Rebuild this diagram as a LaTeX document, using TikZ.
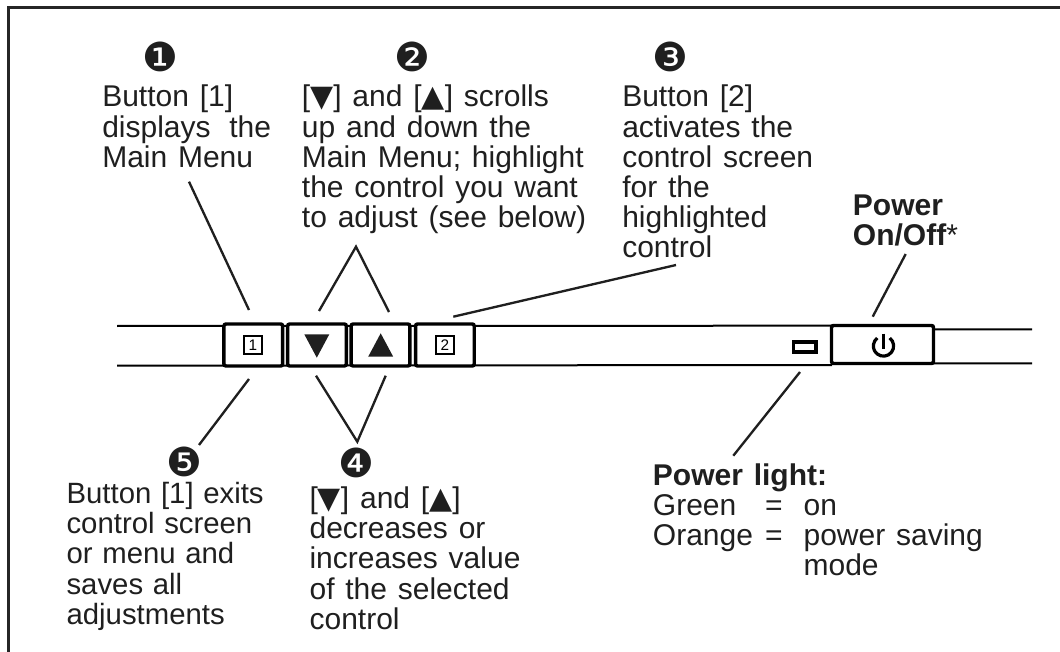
\documentclass[tikz,border=0pt]{standalone}
\usepackage{fontspec}
\setmainfont{Liberation Sans}
\newfontfamily\symf{DejaVu Sans}
\newcommand{\tdn}{{\symf\char"25BC}}
\newcommand{\tup}{{\symf\char"25B2}}
\newcommand{\txt}{\fontsize{22.5}{22.6}\selectfont\spaceskip=0.36em plus 0.1em minus 0.05em\relax}
\newcommand{\txtn}{\fontsize{22}{22.6}\selectfont\spaceskip=0.33em plus 0.1em minus 0.05em\relax}
\newcommand{\topst}{\rule{0pt}{22.5pt}}
\newcommand{\topsm}{\rule{0pt}{17.5pt}}
\begin{document}
\begin{tikzpicture}[x=0.75pt,y=-0.75pt,
  lead/.style={line width=1.75pt,draw=black!88},
  rail/.style={line width=1.5pt},
  btn/.style={draw,line width=2.6pt,rounded corners=1.5pt,fill=white,inner sep=0pt,minimum width=44pt,minimum height=31.5pt},
  label/.style={anchor=north west,align=left,inner sep=0pt,font=\txt,text=black!88},
  num/.style={inner sep=0pt,font=\symf\fontsize{30}{30}\selectfont,text=black!88},
  key/.style={draw,line width=1.3pt,inner sep=0pt,minimum width=14pt,minimum height=14pt,font=\fontsize{11.5}{11.5}\selectfont}]
\useasboundingbox (0,0) rectangle (1060,652);
\draw[line width=2.25pt,draw=black!85] (8,652) -- (8,8) -- (1060,8);
% rails
\coordinate (la) at (117,326); \coordinate (lb) at (117,365.7);
\coordinate (ra) at (1032,329.3); \coordinate (rb) at (1032,363.3);
\coordinate (ma) at (832,325.7); \coordinate (mb) at (832,365);
\coordinate (na) at (933,329.3); \coordinate (nb) at (933,363.3);
\draw[rail] (la) -- (ma) (lb) -- (mb) (na) -- (ra) (nb) -- (rb);
% buttons
\node[btn] (b1) at (253.3,345) {};
\node[btn] (bd) at (317,345) {};
\node[btn] (bu) at (380.5,345) {};
\node[btn] (b2) at (444.9,345) {};
\node[btn,minimum width=76.5pt,minimum height=28.5pt] (bp) at (882.5,344.5) {};
\node[key] (k1) at (253,345) {1};
\node[key] (k2) at (445,345) {2};
\fill[black!88] (304.3,334.3) -- (329.3,334.3) -- (316.8,357.7) -- cycle;
\fill[black!88] (368.2,356.7) -- (393.2,356.7) -- (380.7,333.3) -- cycle;
\node[draw,line width=2.6pt,minimum width=17.2pt,minimum height=7.5pt,inner sep=0pt] (led) at (804.7,347) {};
% power icon
\coordinate (pw) at (883.5,346);
\draw[line width=2.4pt] ([shift={(52:7.6pt)}]pw) arc[start angle=52,end angle=-232,radius=7.6pt];
\draw[line width=2.4pt] (883.5,333.5) -- (883.5,349);
% anchors
\coordinate (e1a) at (189,181.7); \coordinate (e1b) at (249,310);
\coordinate (e2l) at (356,246.7); \coordinate (e2a) at (319,311); \coordinate (e2b) at (389,312);
\coordinate (e3a) at (676,265); \coordinate (e3b) at (453.3,316.7);
\coordinate (e4a) at (249,379); \coordinate (e4b) at (199,445);
\coordinate (e5) at (357.3,441.7); \coordinate (e5a) at (316,375.7); \coordinate (e5b) at (385.7,375.7);
\coordinate (e6a) at (905.7,254); \coordinate (e6b) at (872.7,316.7);
\coordinate (e7a) at (800,372); \coordinate (e7b) at (733.3,455.7);
\draw[lead] (e1a) -- (e1b);
\draw[lead] (e2a) -- (e2l) -- (e2b);
\draw[lead] (e3a) -- (e3b);
\draw[lead] (e4a) -- (e4b);
\draw[lead] (e5a) -- (e5) -- (e5b);
\draw[lead] (e6a) -- (e6b);
\draw[lead] (e7a) -- (e7b);
% numbers
\node[num] (n1) at (160,56.7) {\char"2776};
\node[num] (n2) at (412,56.7) {\char"2777};
\node[num] (n3) at (670.7,56.7) {\char"2778};
\node[num] (n5) at (184.3,461.7) {\char"277A};
\node[num] (n4) at (356,463.3) {\char"2779};
% texts
\node[label] (t1) at (102,76.7) {\topst Button [1]\\displays\hspace{14pt}the\\Main Menu};
\node[label] (t2) at (301.7,76.7) {\topst[\tdn] and [\tup] scrolls\\up and down the\\Main Menu; highlight\\the control you want\\to adjust (see below)};
\node[label] (t3) at (622,76.7) {\topst Button [2]\\activates the\\control screen\\for the\\highlighted\\control};
\node[label] (t6) at (852.7,185) {\topst\textbf{Power}\\\textbf{On/Off}*};
\node[label,font=\txtn] (t5) at (66.3,480) {\topsm Button [1] exits\\control screen\\or menu and\\saves all\\adjustments};
\node[label] (t4) at (309.3,485) {\topsm[\tdn] and [\tup]\\decreases or\\increases value\\of the selected\\control};
\node[label] (t7) at (652.7,455) {\topst\textbf{Power light:}\\\makebox[84.2pt][l]{Green}\makebox[28.8pt][l]{=}on\\\makebox[84.2pt][l]{Orange}\makebox[28.8pt][l]{=}power saving\\\hspace*{113pt}mode};
\end{tikzpicture}
\end{document}
